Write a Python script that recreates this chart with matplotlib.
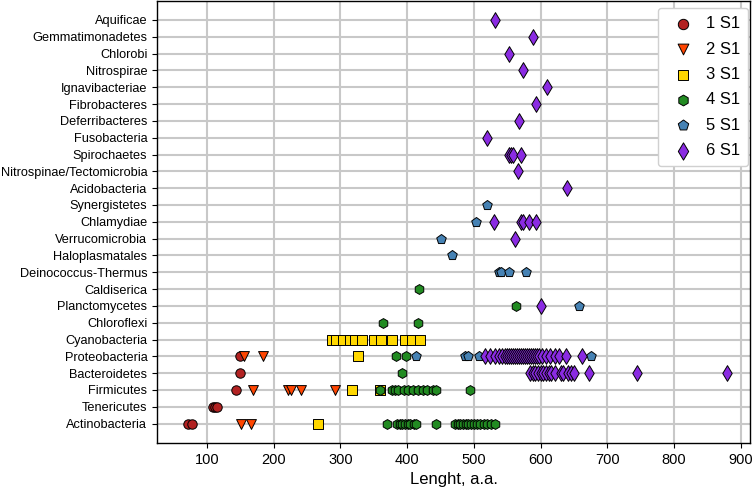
import matplotlib
matplotlib.use("Agg")
import matplotlib.pyplot as plt

plt.rcParams['font.family'] = ['Liberation Sans', 'DejaVu Sans']

categories = ["Actinobacteria", "Tenericutes", "Firmicutes", "Bacteroidetes",
              "Proteobacteria", "Cyanobacteria", "Chloroflexi", "Planctomycetes",
              "Caldiserica", "Deinococcus-Thermus", "Haloplasmatales",
              "Verrucomicrobia", "Chlamydiae", "Synergistetes", "Acidobacteria",
              "Nitrospinae/Tectomicrobia", "Spirochaetes", "Fusobacteria",
              "Deferribacteres", "Fibrobacteres", "Ignavibacteriae", "Nitrospirae",
              "Chlorobi", "Gemmatimonadetes", "Aquificae"]

series_names = ["1 S1", "2 S1", "3 S1", "4 S1", "5 S1", "6 S1"]

s1 = {"Actinobacteria": [72, 77],
      "Tenericutes": [109, 112, 115],
      "Firmicutes": [144],
      "Bacteroidetes": [149],
      "Proteobacteria": [149]}

s2 = {"Actinobacteria": [151, 166],
      "Firmicutes": [169, 222, 226, 241, 292],
      "Proteobacteria": [155, 184]}

s3 = {"Actinobacteria": [267],
      "Firmicutes": [317, 360],
      "Proteobacteria": [327],
      "Cyanobacteria": [288, 294, 304, 314, 322, 333, 351, 361, 377, 397, 408, 420]}

s4 = {"Actinobacteria": [370, 385, 389, 393, 397, 401, 405, 410, 414, 443,
                         472, 476, 480, 484, 488, 492, 496, 500, 505, 510,
                         515, 520, 526, 532],
      "Firmicutes": [360, 377, 382, 387, 395, 402, 409, 417, 424, 430, 439, 444, 494],
      "Bacteroidetes": [393],
      "Proteobacteria": [383, 399],
      "Chloroflexi": [364, 416],
      "Planctomycetes": [563],
      "Caldiserica": [418]}

s5 = {"Proteobacteria": [414, 487, 492, 508, 675],
      "Planctomycetes": [658],
      "Deinococcus-Thermus": [537, 541, 552, 578],
      "Haloplasmatales": [468],
      "Verrucomicrobia": [451],
      "Chlamydiae": [503],
      "Synergistetes": [520]}

s6 = {"Bacteroidetes": [584, 588, 592, 596, 600, 604, 608, 612, 616, 622, 630,
                        634, 641, 646, 650, 673, 744, 880],
      "Proteobacteria": [517, 524, 531, 537, 542, 547, 550, 553, 556, 559, 562,
                         565, 568, 571, 574, 577, 580, 583, 586, 589, 592, 595,
                         598, 602, 608, 614, 621, 628, 638, 662],
      "Planctomycetes": [600],
      "Verrucomicrobia": [561],
      "Chlamydiae": [530, 570, 573, 583, 593],
      "Acidobacteria": [640],
      "Nitrospinae/Tectomicrobia": [566],
      "Spirochaetes": [552, 556, 559, 571],
      "Fusobacteria": [519],
      "Deferribacteres": [568],
      "Fibrobacteres": [593],
      "Ignavibacteriae": [610],
      "Nitrospirae": [574],
      "Chlorobi": [553],
      "Gemmatimonadetes": [588],
      "Aquificae": [531]}

all_series = [s1, s2, s3, s4, s5, s6]
markers = ['o', 'v', 's', 'h', 'p', 'd']
colors = ['#b22222', '#ff4500', '#ffd700', '#228b22', '#4682b4', '#8a2be2']
sizes = [46, 50, 42, 50, 52, 64]

fig = plt.figure(figsize=(7.56, 4.97), dpi=100)
ax = fig.add_axes([0.2077, 0.1087, 0.7843, 0.8883])

cat_index = {c: i for i, c in enumerate(categories)}
for data, name, m, col, sz in zip(all_series, series_names, markers, colors, sizes):
    xs, ys = [], []
    for cat, vals in data.items():
        for v in vals:
            xs.append(v)
            ys.append(cat_index[cat])
    ax.scatter(xs, ys, marker=m, s=sz, c=col, edgecolors='black',
               linewidths=0.7, label=name, zorder=3)

ax.set_yticks(range(len(categories)))
ax.set_yticklabels(categories, fontsize=9.2)
ax.set_xticks([100, 200, 300, 400, 500, 600, 700, 800, 900])
ax.tick_params(axis='x', labelsize=10.5)
ax.set_xlim(25, 914)
ax.set_ylim(-1.15, 25.1)
ax.set_xlabel("Lenght, a.a.", fontsize=12)
ax.grid(True, color='#c8c8c8', linewidth=1.5)
ax.set_axisbelow(True)
for sp in ax.spines.values():
    sp.set_color('black')
    sp.set_linewidth(1.0)

ax.legend(loc='upper right', bbox_to_anchor=(0.997, 0.985), borderaxespad=0,
          fontsize=12, scatterpoints=1, handletextpad=0.35, borderpad=0.5,
          labelspacing=0.62, framealpha=1, edgecolor='#d0d0d0', markerscale=1.1)

fig.savefig("out.png", dpi=100)
